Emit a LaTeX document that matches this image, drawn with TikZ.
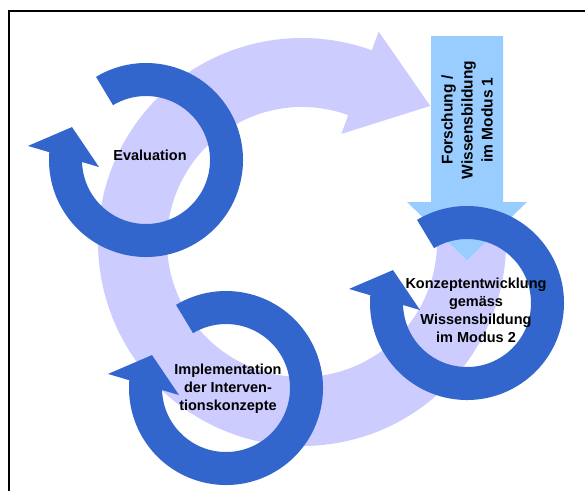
\documentclass[tikz,border=0pt]{standalone}
\usepackage{fontspec}
\setmainfont{Liberation Sans}
\definecolor{bandpurple}{HTML}{CCCCFF}
\definecolor{ringblue}{HTML}{3366CC}
\definecolor{shaftblue}{HTML}{99CCFF}
\tikzset{
  lbl/.style={font=\fontsize{14.5}{18}\selectfont\bfseries, align=center, text=black, inner sep=0pt},
  lblbig/.style={font=\fontsize{15.5}{20}\selectfont\bfseries, align=center, text=black, inner sep=0pt},
  circarrow/.pic={
    \fill[ringblue] (121:97pt) arc[start angle=121,end angle=-184.6,radius=97pt]
      -- (173.2:118.8pt) -- (156:81pt) -- (188.5:47.5pt) -- (-178.2:64pt)
      arc[start angle=-178.2,end angle=121,radius=64pt] -- cycle;
  }
}
\begin{document}
\begin{tikzpicture}[x=1pt,y=1pt]
\useasboundingbox (0,0) rectangle (585,-491);
\fill[white] (0,0) rectangle (585,-491);
\draw[line width=2pt] (8.7,-491) -- (8.7,-11) -- (585,-11);
% large circular band
\begin{scope}[shift={(302,-242)}]
  \fill[bandpurple] (10:204pt) arc[start angle=10,end angle=-290,radius=204pt]
    -- (70:224pt) -- (46.7:187pt) -- (70:115pt) -- (70:135pt)
    arc[start angle=70,end angle=370,radius=135pt] -- cycle;
\end{scope}
% research arrow
\fill[shaftblue] (431,-36) -- (503,-36) -- (503,-202) -- (527,-202) -- (467,-260)
  -- (407,-202) -- (431,-202) -- cycle;
\node[lblbig, rotate=90] (fo) at (467,-120) {Forschung /\\Wissensbildung\\im Modus 1};
% blue circular arrows
\pic at (146,-160) {circarrow};
\pic at (467,-303) {circarrow};
\pic at (226,-388) {circarrow};
% labels
\node[lbl] (ev) at (150,-155) {Evaluation};
\node[lbl] (ko) at (476,-310) {Konzeptentwicklung\\gemäss\\Wissensbildung\\im Modus 2};
\node[lbl] (im) at (228,-389) {Implementation\\der Interven-\\tionskonzepte};
\end{tikzpicture}
\end{document}
